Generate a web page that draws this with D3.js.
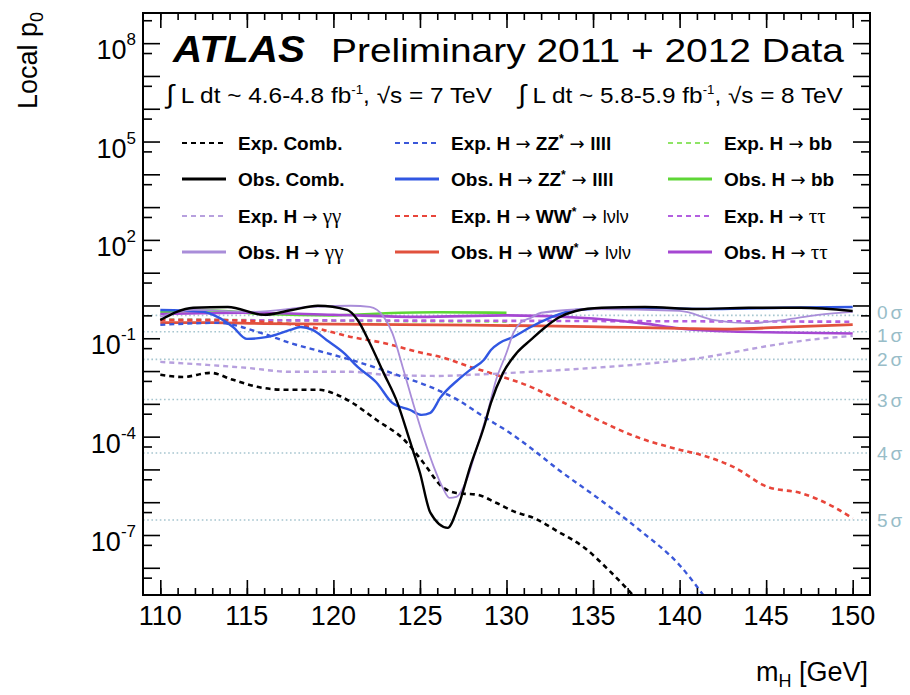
<!DOCTYPE html>
<meta charset="utf-8">
<script src="https://d3js.org/d3.v7.min.js"></script>
<style>
  body { margin: 0; background: #fff; }
  text { font-family: "Liberation Sans", Arial, Helvetica, sans-serif; }
</style>
<div id="chart"></div>
<script>
// local p0 vs m_H: [mass (GeV), p0]
var expComb = [[110,7.7e-3],[111.3,6.6e-3],[112.9,8.8e-3],[114.2,5.4e-3],[115.6,3.3e-3],[117.1,2.7e-3],[119.1,2.7e-3],[120.2,1.9e-3],[121,1.15e-3],[122.5,3.2e-4],[124.1,7.9e-5],[125.2,1.6e-5],[126.3,2.9e-6],[127.1,1.9e-6],[128.3,1.7e-6],[129.4,9.6e-7],[130.6,4.8e-7],[131.4,3.6e-7],[133,1.25e-7],[134.5,4.1e-8],[136,7.6e-9],[137.6,1.0e-9]];
var obsComb = [[110,0.36],[111.9,0.85],[113.9,0.9],[116,0.52],[117.6,0.73],[119.1,0.98],[120.8,0.73],[121.4,0.36],[122.1,0.072],[122.9,8.8e-3],[123.7,1.07e-3],[124.4,7.9e-5],[125,7.9e-6],[125.6,4.8e-7],[126.6,1.65e-7],[127.2,7.2e-7],[127.9,1.2e-5],[128.7,2.0e-4],[129.1,1.07e-3],[129.8,8.8e-3],[130.6,0.036],[131.4,0.089],[132.2,0.21],[133,0.42],[134,0.68],[135.5,0.85],[138,0.9],[141,0.78],[144,0.85],[147,0.85],[150,0.68]];
var expGG = [[110,0.019],[112.7,0.0154],[115,0.0125],[117.5,9.5e-3],[121,9.5e-3],[123,7.7e-3],[126,7.1e-3],[128,7.7e-3],[131.4,9.5e-3],[135,0.0125],[138,0.0166],[141.6,0.027],[143.5,0.041],[145.5,0.063],[147.5,0.089],[150,0.118]];
var obsGG = [[110,0.45],[111.9,0.73],[115.2,0.64],[118.7,0.9],[121,0.98],[122.1,0.9],[122.9,0.45],[123.4,0.146],[124,0.0134],[124.6,1.07e-3],[125.2,9.9e-5],[125.8,1.2e-5],[126.3,2.9e-6],[126.7,1.36e-6],[127.1,1.45e-6],[127.7,4.8e-6],[128.3,4.9e-5],[128.9,5.4e-4],[129.4,5.4e-3],[130,0.036],[130.4,0.146],[130.8,0.295],[131.4,0.42],[132,0.6],[135,0.78],[140,0.68],[142,0.36],[144,0.29],[146,0.36],[148,0.52],[150,0.64]];
var expZZ = [[110,0.256],[113.3,0.295],[115.8,0.146],[117.5,0.072],[119.4,0.038],[121,0.022],[122.5,0.0125],[124,6.65e-3],[125.6,3.3e-3],[127.2,1.3e-3],[128.7,4.0e-4],[130.2,1.3e-4],[131.4,4.5e-5],[133,9.8e-6],[135.4,1.2e-6],[137.7,1.4e-7],[140,1.2e-8],[141.6,1.0e-9]];
var obsZZ = [[110,0.73],[112.5,0.64],[113.3,0.45],[114.2,0.22],[115,0.096],[116.2,0.11],[117.5,0.18],[118.1,0.22],[118.8,0.18],[119.6,0.089],[120.6,0.036],[121.4,0.0134],[122.5,4.4e-3],[123.4,1.07e-3],[124.4,6.6e-4],[125.1,4.6e-4],[125.6,5.3e-4],[126.2,1.6e-3],[127.2,5.4e-3],[127.9,0.0109],[128.7,0.022],[129.1,0.044],[129.6,0.072],[130.4,0.11],[131.4,0.22],[132.5,0.42],[134,0.73],[137,0.85],[142,0.78],[146,0.85],[150,0.9]];
var expWW = [[110,0.36],[113,0.36],[116,0.316],[118.7,0.22],[121,0.11],[122.9,0.072],[124.9,0.038],[126.4,0.025],[127.9,0.0134],[129.4,7.7e-3],[131.4,3.3e-3],[133,1.3e-3],[135.3,3.2e-4],[137.7,9e-5],[140,4e-5],[141.2,2.8e-5],[143.1,1.2e-5],[145.1,2.9e-6],[147,1.9e-6],[148.9,7.2e-7],[150,3.2e-7]];
var obsWW = [[110,0.3],[113,0.3],[116,0.28],[120,0.27],[124,0.26],[128,0.25],[132,0.24],[136,0.22],[140,0.2],[143,0.19],[146,0.22],[150,0.26]];
var expBB = [[110,0.38],[115,0.36],[120,0.34],[125,0.33],[130,0.32]];
var obsBB = [[110,0.62],[113,0.7],[116,0.55],[120,0.5],[123,0.58],[126,0.62],[130,0.6]];
var expTT = [[110,0.36],[120,0.35],[130,0.34],[140,0.33],[150,0.32]];
var obsTT = [[110,0.55],[115,0.6],[120,0.52],[125,0.45],[130,0.5],[135,0.4],[138,0.28],[140,0.2],[143,0.16],[146,0.15],[150,0.14]];

// sigma reference levels (one-sided)
var sigmaNames = ["0", "1", "2", "3", "4", "5"];
var sigmaP = [0.5, 0.1587, 0.02275, 1.35e-3, 3.167e-5, 2.867e-7];

// axis ticks
var xMajor = [110, 115, 120, 125, 130, 135, 140, 145, 150];
var yLabelExp = [8, 5, 2, -1, -4, -7];

var width = 910, height = 695;
var plot = {left: 143, right: 870, top: 13, bottom: 595};

var svg = d3.select("#chart").append("svg")
  .attr("width", width)
  .attr("height", height);

var x = d3.scaleLinear().domain([109, 151]).range([plot.left, plot.right]);
var y = d3.scaleLog().domain([Math.pow(10, -8.83), Math.pow(10, 8.92)]).range([plot.bottom, plot.top]);

svg.append("clipPath").attr("id", "clip")
  .append("rect")
  .attr("x", plot.left).attr("y", plot.top)
  .attr("width", plot.right - plot.left).attr("height", plot.bottom - plot.top);

// sigma lines
svg.selectAll(".sig")
  .data(sigmaP)
  .enter().append("line")
    .attr("x1", plot.left).attr("x2", plot.right)
    .attr("y1", function(d) { return y(d); })
    .attr("y2", function(d) { return y(d); })
    .style("stroke", "#a6c5cf")
    .style("stroke-width", 1.6)
    .style("stroke-dasharray", "1.6,2.6");

// series
var series = [
  {data: expBB, color: "#8fe466", dash: "5,4", w: 2.4},
  {data: obsBB, color: "#5ed636", dash: null, w: 2.6},
  {data: expTT, color: "#b35fe0", dash: "5,4", w: 2.6},
  {data: obsTT, color: "#a547d2", dash: null, w: 2.6},
  {data: expWW, color: "#e8453a", dash: "5,4", w: 2.6},
  {data: obsWW, color: "#e1513d", dash: null, w: 2.8},
  {data: expGG, color: "#b7a0de", dash: "5,4", w: 2.4},
  {data: expZZ, color: "#3a57d9", dash: "5,4", w: 2.4},
  {data: obsZZ, color: "#3157e2", dash: null, w: 2.4},
  {data: expComb, color: "#000", dash: "5,4", w: 2.6},
  {data: obsGG, color: "#a98dd9", dash: null, w: 1.8},
  {data: obsComb, color: "#000", dash: null, w: 2.4}
];

var line = d3.line()
  .x(function(d) { return x(d[0]); })
  .y(function(d) { return y(d[1]); })
  .curve(d3.curveMonotoneX);

var curves = svg.append("g").attr("clip-path", "url(#clip)");
series.forEach(function(s) {
  curves.append("path")
    .datum(s.data)
    .attr("d", line)
    .style("fill", "none")
    .style("stroke", s.color)
    .style("stroke-width", s.w)
    .style("stroke-dasharray", s.dash);
});

// frame
svg.append("rect")
  .attr("x", plot.left).attr("y", plot.top)
  .attr("width", plot.right - plot.left).attr("height", plot.bottom - plot.top)
  .style("fill", "none").style("stroke", "#000").style("stroke-width", 2);

// x ticks (bottom and top, pointing inward)
var xMinor = d3.range(110, 151, 1);
function xTicks(gen, pos, vals, size) {
  svg.append("g")
    .attr("transform", "translate(0," + pos + ")")
    .call(gen(x).tickValues(vals).tickSize(size).tickFormat(""))
    .call(function(g) { g.select(".domain").remove(); g.selectAll("line").style("stroke-width", 1.6); });
}
xTicks(d3.axisBottom, plot.bottom, xMinor, -7);
xTicks(d3.axisBottom, plot.bottom, xMajor, -15);
xTicks(d3.axisTop, plot.top, xMinor, -7);
xTicks(d3.axisTop, plot.top, xMajor, -15);

svg.selectAll(".xlab")
  .data(xMajor)
  .enter().append("text")
    .attr("x", function(d) { return x(d); })
    .attr("y", plot.bottom + 30)
    .attr("text-anchor", "middle")
    .style("font-size", "27px")
    .text(function(d) { return d; });

// y ticks (left and right, pointing inward)
var yDecades = d3.range(-8, 9).map(function(e) { return Math.pow(10, e); });
var yFives = d3.range(-9, 9).map(function(e) { return 5 * Math.pow(10, e); });
function yTicks(gen, pos, vals, size) {
  svg.append("g")
    .attr("transform", "translate(" + pos + ",0)")
    .call(gen(y).tickValues(vals).tickSize(size).tickFormat(""))
    .call(function(g) { g.select(".domain").remove(); g.selectAll("line").style("stroke-width", 1.6); });
}
yTicks(d3.axisLeft, plot.left, yDecades, -17);
yTicks(d3.axisLeft, plot.left, yFives, -9);
yTicks(d3.axisRight, plot.right, yDecades, -17);
yTicks(d3.axisRight, plot.right, yFives, -9);

var ylab = svg.selectAll(".ylab")
  .data(yLabelExp)
  .enter().append("text")
    .attr("x", 136)
    .attr("y", function(d) { return y(Math.pow(10, d)) + 16; })
    .attr("text-anchor", "end")
    .style("font-size", "27px");
ylab.append("tspan").text("10");
ylab.append("tspan")
  .attr("dy", -14)
  .style("font-size", "17px")
  .text(function(d) { return d < 0 ? "-" + (-d) : d; });

// sigma labels (0 and 1 sigma nudged apart, they nearly touch)
var sigNudge = [-3, 3, 0, 0, 0, 0];
var sl = svg.selectAll(".slab")
  .data(sigmaP)
  .enter().append("text")
    .attr("x", 877)
    .attr("y", function(d, i) { return y(d) + 7 + sigNudge[i]; })
    .style("font-size", "19px")
    .style("fill", "#98bdc8");
sl.append("tspan").text(function(d, i) { return sigmaNames[i]; });
sl.append("tspan").attr("dx", 3).text("σ");

// axis titles
svg.append("text")
  .attr("transform", "translate(37,12) rotate(-90)")
  .attr("text-anchor", "end")
  .style("font-size", "27px")
  .call(function(t) {
    t.append("tspan").text("Local p");
    t.append("tspan").attr("dy", 6).style("font-size", "18px").text("0");
  });

svg.append("text")
  .attr("x", 868).attr("y", 681)
  .attr("text-anchor", "end")
  .style("font-size", "27px")
  .call(function(t) {
    t.append("tspan").text("m");
    t.append("tspan").attr("dy", 6).style("font-size", "18px").text("H");
    t.append("tspan").attr("dy", -6).text(" [GeV]");
  });

// header
svg.append("text")
  .attr("x", 173).attr("y", 62)
  .attr("textLength", 132).attr("lengthAdjust", "spacingAndGlyphs")
  .style("font-size", "37px").style("font-weight", "bold").style("font-style", "italic")
  .text("ATLAS");
svg.append("text")
  .attr("x", 331).attr("y", 62)
  .attr("textLength", 513).attr("lengthAdjust", "spacingAndGlyphs")
  .style("font-size", "33px")
  .text("Preliminary 2011 + 2012 Data");

function lumi(x0, len, lum, energy) {
  var t = svg.append("text")
    .attr("x", x0).attr("y", 103)
    .style("font-size", "22px");
  t.append("tspan").style("font-size", "26px").text("∫");
  t.append("tspan").text(" L dt ~ " + lum + " fb");
  t.append("tspan").attr("dy", -9).style("font-size", "12px").text("-1");
  t.append("tspan").attr("dy", 9).text(", √s = " + energy + " TeV");
  var w = t.node().getComputedTextLength();
  t.attr("transform", "translate(" + x0 + ",0) scale(" + (len / w) + ",1) translate(" + (-x0) + ",0)");
}
lumi(166, 326, "4.6-4.8", "7");
lumi(518, 325, "5.8-5.9", "8");

// legend
var legend = [
  {col: 0, row: 0, color: "#000", dash: "5,4", w: 2.2, label: [["Exp. Comb.", "b"]]},
  {col: 0, row: 1, color: "#000", dash: null, w: 3, label: [["Obs. Comb.", "b"]]},
  {col: 0, row: 2, color: "#b7a0de", dash: "5,4", w: 2.2, label: [["Exp. H ", "b"], ["→", "a"], [" γγ", "g"]]},
  {col: 0, row: 3, color: "#a98dd9", dash: null, w: 3, label: [["Obs. H ", "b"], ["→", "a"], [" γγ", "g"]]},
  {col: 1, row: 0, color: "#3a57d9", dash: "5,4", w: 2.2, label: [["Exp. H ", "b"], ["→", "a"], [" ZZ", "b"], ["*", "s"], [" → ", "a"], ["llll", "b"]]},
  {col: 1, row: 1, color: "#3157e2", dash: null, w: 3, label: [["Obs. H ", "b"], ["→", "a"], [" ZZ", "b"], ["*", "s"], [" → ", "a"], ["llll", "b"]]},
  {col: 1, row: 2, color: "#e8453a", dash: "5,4", w: 2.2, label: [["Exp. H ", "b"], ["→", "a"], [" WW", "b"], ["*", "s"], [" → ", "a"], ["lνlν", "r"]]},
  {col: 1, row: 3, color: "#e1513d", dash: null, w: 3, label: [["Obs. H ", "b"], ["→", "a"], [" WW", "b"], ["*", "s"], [" → ", "a"], ["lνlν", "r"]]},
  {col: 2, row: 0, color: "#8fe466", dash: "5,4", w: 2.2, label: [["Exp. H ", "b"], ["→", "a"], [" bb", "b"]]},
  {col: 2, row: 1, color: "#5ed636", dash: null, w: 3, label: [["Obs. H ", "b"], ["→", "a"], [" bb", "b"]]},
  {col: 2, row: 2, color: "#b35fe0", dash: "5,4", w: 2.2, label: [["Exp. H ", "b"], ["→", "a"], [" ττ", "g"]]},
  {col: 2, row: 3, color: "#a547d2", dash: null, w: 3, label: [["Obs. H ", "b"], ["→", "a"], [" ττ", "g"]]}
];
var colX = [182, 395, 668];
var rowY = [143, 179, 216, 252];

legend.forEach(function(e) {
  var x0 = colX[e.col], y0 = rowY[e.row];
  svg.append("line")
    .attr("x1", x0).attr("x2", x0 + 44)
    .attr("y1", y0).attr("y2", y0)
    .style("stroke", e.color).style("stroke-width", e.w)
    .style("stroke-dasharray", e.dash);
  var t = svg.append("text")
    .attr("x", x0 + 56).attr("y", y0 + 7)
    .style("font-size", "19px");
  var raised = false;
  e.label.forEach(function(p) {
    var sp = t.append("tspan").text(p[0]);
    if (raised) { sp.attr("dy", 7); raised = false; }
    if (p[1] === "b") sp.style("font-weight", "bold");
    if (p[1] === "a") sp.style("font-size", "18px").style("font-family", "'DejaVu Sans', sans-serif");
    if (p[1] === "g") sp.style("font-family", "'Liberation Serif', 'DejaVu Serif', serif").style("font-size", "21px");
    if (p[1] === "r") sp.style("font-size", "18px");
    if (p[1] === "s") { sp.attr("dy", -7).style("font-size", "12px").style("font-weight", "bold"); raised = true; }
  });
});
</script>
